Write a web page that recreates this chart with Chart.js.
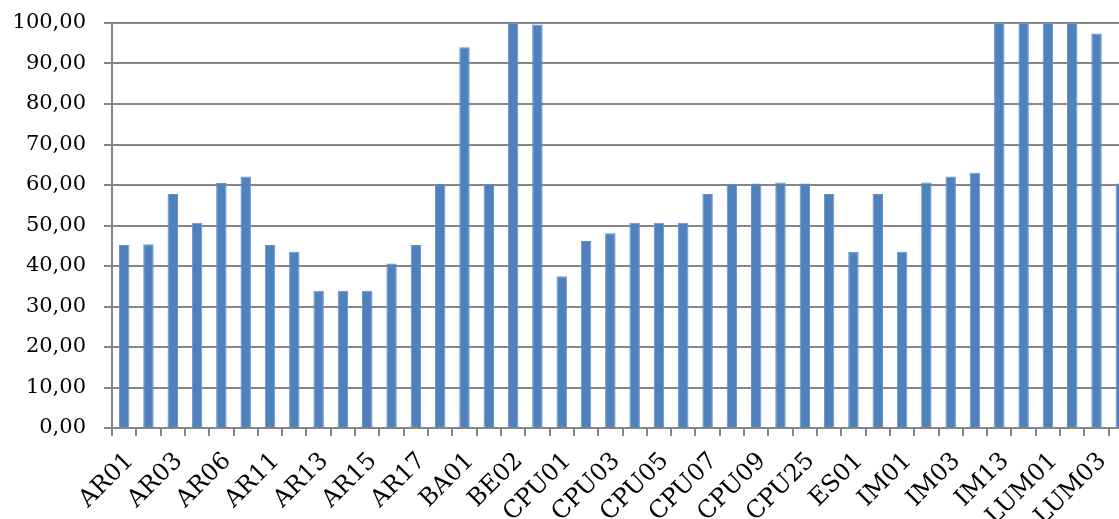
<!DOCTYPE html>
<html>
<head>
<meta charset="utf-8">
<title>Bar chart</title>
<script src="https://cdn.jsdelivr.net/npm/chart.js@4/dist/chart.umd.min.js"></script>
<style>
  html, body { margin: 0; padding: 0; background: #ffffff; overflow: hidden; }
  #wrap { position: relative; width: 1133px; height: 519px; }
</style>
</head>
<body>
<div id="wrap"><canvas id="chart" width="1133" height="519"></canvas></div>
<script>
// Station codes along the x axis
const categories = [
  'AR01', 'AR02', 'AR03', 'AR05', 'AR06', 'AR07', 'AR11', 'AR12', 'AR13', 'AR14',
  'AR15', 'AR16', 'AR17', 'AR18', 'BA01', 'BA02', 'BE02', 'BE03', 'CPU01', 'CPU02',
  'CPU03', 'CPU04', 'CPU05', 'CPU06', 'CPU07', 'CPU08', 'CPU09', 'CPU10', 'CPU25', 'CPU26',
  'ES01', 'ES02', 'IM01', 'IM02', 'IM03', 'IM04', 'IM13', 'IM14', 'LUM01', 'LUM02',
  'LUM03', 'LUM04'
];

// Percentage per station
const values = [
  45.2, 45.4, 57.8, 50.7, 60.5, 62.1, 45.2, 43.5, 33.9, 33.9,
  33.9, 40.6, 45.2, 60.3, 94.0, 60.3, 100, 99.6, 37.5, 46.2,
  48.1, 50.7, 50.7, 50.7, 57.8, 60.3, 60.4, 60.6, 60.4, 57.8,
  43.5, 57.8, 43.5, 60.6, 62.1, 63.0, 100, 100, 100, 100,
  97.4, 60.4
];

// Value axis range
const yMin = 0;
const yMax = 100;
const yStep = 10;

const axisGray = '#868686';

new Chart(document.getElementById('chart'), {
  type: 'bar',
  data: {
    labels: categories,
    datasets: [{
      data: values,
      backgroundColor: '#4F81BD',
      borderColor: '#6690C8',
      borderWidth: 1,
      categoryPercentage: 1.0,
      barPercentage: 0.43
    }]
  },
  options: {
    responsive: false,
    animation: false,
    layout: { padding: { top: 23, left: 0, right: 0, bottom: 0 } },
    plugins: {
      legend: { display: false },
      tooltip: { enabled: false }
    },
    scales: {
      x: {
        offset: true,
        grid: {
          offset: true,
          drawOnChartArea: false,
          drawTicks: true,
          tickLength: 8,
          color: axisGray,
          lineWidth: 2
        },
        border: { display: true, color: axisGray, width: 2 },
        ticks: {
          autoSkip: false,
          minRotation: 45,
          maxRotation: 45,
          padding: 11,
          labelOffset: 6,
          color: '#000000',
          font: { family: 'DejaVu Serif', size: 24 },
          callback: function (value, index) {
            return index % 2 === 0 ? categories[index] : '';
          }
        },
        afterFit: function (scale) {
          scale.height = 91;
          scale.paddingLeft = 0;
          scale.paddingRight = 0;
        }
      },
      y: {
        min: yMin,
        max: yMax,
        grid: {
          color: axisGray,
          lineWidth: 2,
          drawTicks: true,
          tickLength: 8
        },
        border: { display: true, color: axisGray, width: 2 },
        ticks: {
          stepSize: yStep,
          padding: 18,
          color: '#000000',
          font: { family: 'DejaVu Serif', size: 21 },
          callback: function (value) {
            return value.toFixed(2).replace('.', ',');
          }
        },
        afterFit: function (scale) {
          scale.width = 112;
          scale.paddingTop = 0;
          scale.paddingBottom = 0;
        }
      }
    }
  }
});
</script>
</body>
</html>
